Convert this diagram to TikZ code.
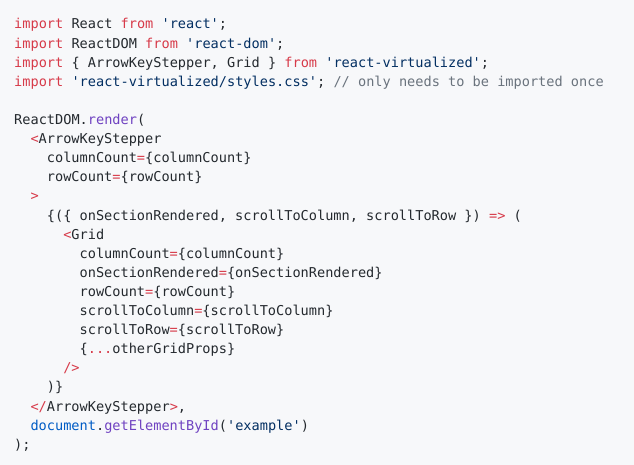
\documentclass[tikz,border=0pt]{standalone}
\usepackage{fontspec}
\setmonofont{DejaVu Sans Mono}
\definecolor{bgc}{HTML}{F7F8FA}
\definecolor{txc}{HTML}{24292E}
\definecolor{kwc}{HTML}{D73A49}
\definecolor{stc}{HTML}{032F62}
\definecolor{puc}{HTML}{6F42C1}
\definecolor{cmc}{HTML}{6A737D}
\definecolor{blc}{HTML}{005CC5}
\newcommand{\kw}[1]{\textcolor{kwc}{#1}}
\newcommand{\st}[1]{\textcolor{stc}{#1}}
\newcommand{\pu}[1]{\textcolor{puc}{#1}}
\newcommand{\cm}[1]{\textcolor{cmc}{#1}}
\newcommand{\bl}[1]{\textcolor{blc}{#1}}
\newcommand{\qq}{\char"27}
\newcommand{\codeln}[3]{\node[codeline] (l#1) at ({14+#2*8.18},{29+(#1-1)*19.1}) {#3};}
\begin{document}
\begin{tikzpicture}[x=1pt,y=-1pt,
  codeline/.style={anchor=base west,inner sep=0pt,font=\ttfamily\fontsize{13.6}{16}\selectfont,text=txc}]
\fill[bgc] (0,0) rectangle (634,465);
\useasboundingbox (0,0) rectangle (634,465);
\codeln{1}{0}{\kw{import} React \kw{from} \st{\qq react\qq};}
\codeln{2}{0}{\kw{import} ReactDOM \kw{from} \st{\qq react-dom\qq};}
\codeln{3}{0}{\kw{import} \{ ArrowKeyStepper, Grid \} \kw{from} \st{\qq react-virtualized\qq};}
\codeln{4}{0}{\kw{import} \st{\qq react-virtualized/styles.css\qq}; \cm{// only needs to be imported once}}
\codeln{6}{0}{ReactDOM.\pu{render}(}
\codeln{7}{2}{\kw{<}ArrowKeyStepper}
\codeln{8}{4}{columnCount\kw{=}\{columnCount\}}
\codeln{9}{4}{rowCount\kw{=}\{rowCount\}}
\codeln{10}{2}{\kw{>}}
\codeln{11}{4}{\{(\{ onSectionRendered, scrollToColumn, scrollToRow \}) \kw{=>} (}
\codeln{12}{6}{\kw{<}Grid}
\codeln{13}{8}{columnCount\kw{=}\{columnCount\}}
\codeln{14}{8}{onSectionRendered\kw{=}\{onSectionRendered\}}
\codeln{15}{8}{rowCount\kw{=}\{rowCount\}}
\codeln{16}{8}{scrollToColumn\kw{=}\{scrollToColumn\}}
\codeln{17}{8}{scrollToRow\kw{=}\{scrollToRow\}}
\codeln{18}{8}{\{\kw{...}otherGridProps\}}
\codeln{19}{6}{\kw{/>}}
\codeln{20}{4}{)\}}
\codeln{21}{2}{\kw{</}ArrowKeyStepper\kw{>},}
\codeln{22}{2}{\bl{document}.\pu{getElementById}(\st{\qq example\qq})}
\codeln{23}{0}{);}
\end{tikzpicture}
\end{document}
